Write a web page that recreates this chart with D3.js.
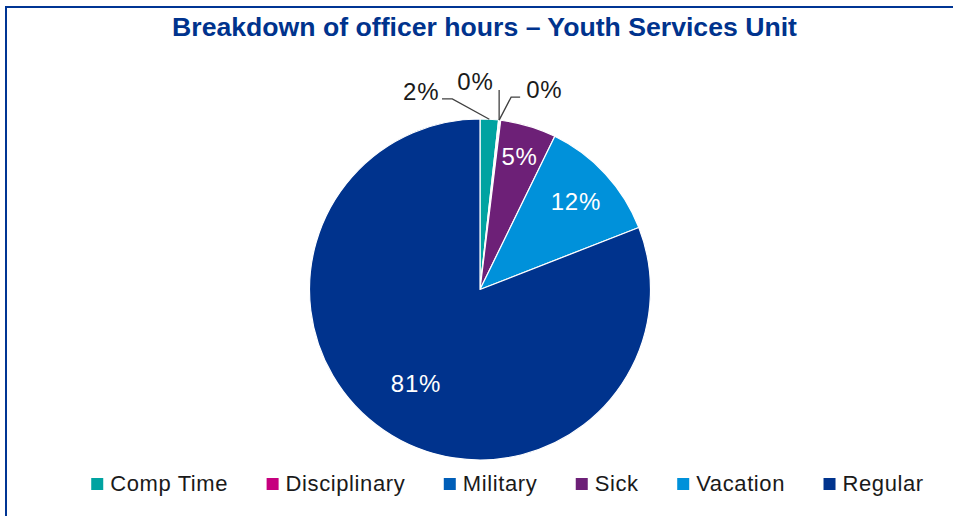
<!DOCTYPE html>
<html>
<head>
<meta charset="utf-8">
<script src="https://cdn.jsdelivr.net/npm/d3@7"></script>
<style>
  html, body { margin: 0; padding: 0; background: #fff; }
  svg { display: block; }
</style>
</head>
<body>
<script>
const title = "Breakdown of officer hours \u2013 Youth Services Unit";
const categories = ["Comp Time", "Disciplinary", "Military", "Sick", "Vacation", "Regular"];
const values = [1.74, 0.1, 0.1, 5.29, 11.85, 80.92];
const labels = ["2%", "0%", "0%", "5%", "12%", "81%"];
const colors = ["#00A3A1", "#C6007E", "#005EB8", "#6D2077", "#0091DA", "#00338D"];

const W = 953, H = 516;
const cx = 480, cy = 289.5, R = 170.5;
const FONT = "'Liberation Sans', Arial, sans-serif";

const svg = d3.select("body").append("svg").attr("width", W).attr("height", H);

// frame
svg.append("rect").attr("x", 6).attr("y", 7).attr("width", 1000).attr("height", 600)
  .attr("fill", "none").attr("stroke", "#003594").attr("stroke-width", 2);

// title
const t = svg.append("text").attr("x", 484.5).attr("y", 36)
  .attr("text-anchor", "middle").attr("font-family", FONT).attr("font-weight", "bold")
  .attr("font-size", 23).attr("fill", "#00338D").text(title);
const tw = t.node().getComputedTextLength();
t.attr("font-size", 23 * 625 / tw);

const data = categories.map((c, i) => ({ cat: c, value: values[i], label: labels[i], color: colors[i] }));
const pie = d3.pie().sort(null).value(d => d.value);
const arcs = pie(data);
const arc = d3.arc().innerRadius(0).outerRadius(R);

const g = svg.append("g").attr("transform", `translate(${cx},${cy})`);
g.selectAll("path.slice").data(arcs).join("path").attr("class", "slice")
  .attr("d", arc).attr("fill", d => d.data.color)
  .attr("stroke", "#fff").attr("stroke-width", 1.2).attr("stroke-linejoin", "round");

// inside labels
const insideK = { 3: 0.817, 4: 0.765, 5: 0.665 };
arcs.forEach((a, i) => {
  if (insideK[i] === undefined) return;
  const k = insideK[i] * R;
  const [x, y] = d3.arc().innerRadius(k).outerRadius(k).centroid(a);
  g.append("text").attr("x", x).attr("y", y).attr("dy", "0.36em")
    .attr("text-anchor", "middle").attr("font-family", FONT).attr("font-size", 24)
    .attr("letter-spacing", 0.8).attr("fill", "#fff").text(a.data.label);
});

// outside labels with leader lines
const outside = {
  0: { pts: [[-37, -20.3], [-47.3, -20.3]], text: [-50, -18.9], anchor: "end" },
  1: { pts: [[0, -30]], text: [-5.5, -30], anchor: "end" },
  2: { pts: [[12, -23], [21, -23]], text: [27, -22], anchor: "start" }
};
const edge = d3.arc().innerRadius(R).outerRadius(R);
arcs.forEach((a, i) => {
  const o = outside[i];
  if (!o) return;
  let [x0, y0] = edge.centroid(a);
  if (i === 2) { [x0, y0] = edge.centroid(arcs[1]); }
  const pts = [[x0, y0]].concat(o.pts.map(p => [x0 + p[0], y0 + p[1]]));
  g.append("path").attr("d", d3.line()(pts)).attr("fill", "none")
    .attr("stroke", "#404040").attr("stroke-width", 1.3);
  g.append("text").attr("x", x0 + o.text[0]).attr("y", y0 + o.text[1])
    .attr("text-anchor", o.anchor).attr("font-family", FONT).attr("font-size", 24)
    .attr("letter-spacing", 0.8).attr("fill", "#1a1a1a").text(a.data.label);
});

// legend
const lg = svg.append("g");
let lx = 92;
const items = [];
data.forEach(d => {
  const it = lg.append("g");
  it.append("rect").attr("x", 0).attr("y", -13).attr("width", 12).attr("height", 12).attr("fill", d.color);
  const tx = it.append("text").attr("x", 19).attr("y", 0).attr("font-family", FONT)
    .attr("font-size", 22).attr("letter-spacing", 0.6).attr("fill", "#1a1a1a").text(d.cat);
  items.push({ it, w: 19 + tx.node().getComputedTextLength() });
});
const total = items.reduce((s, d) => s + d.w, 0) + 38.5 * (items.length - 1);
lx = 507.5 - total / 2;
items.forEach(d => {
  d.it.attr("transform", `translate(${lx},491)`);
  lx += d.w + 38.5;
});
</script>
</body>
</html>
